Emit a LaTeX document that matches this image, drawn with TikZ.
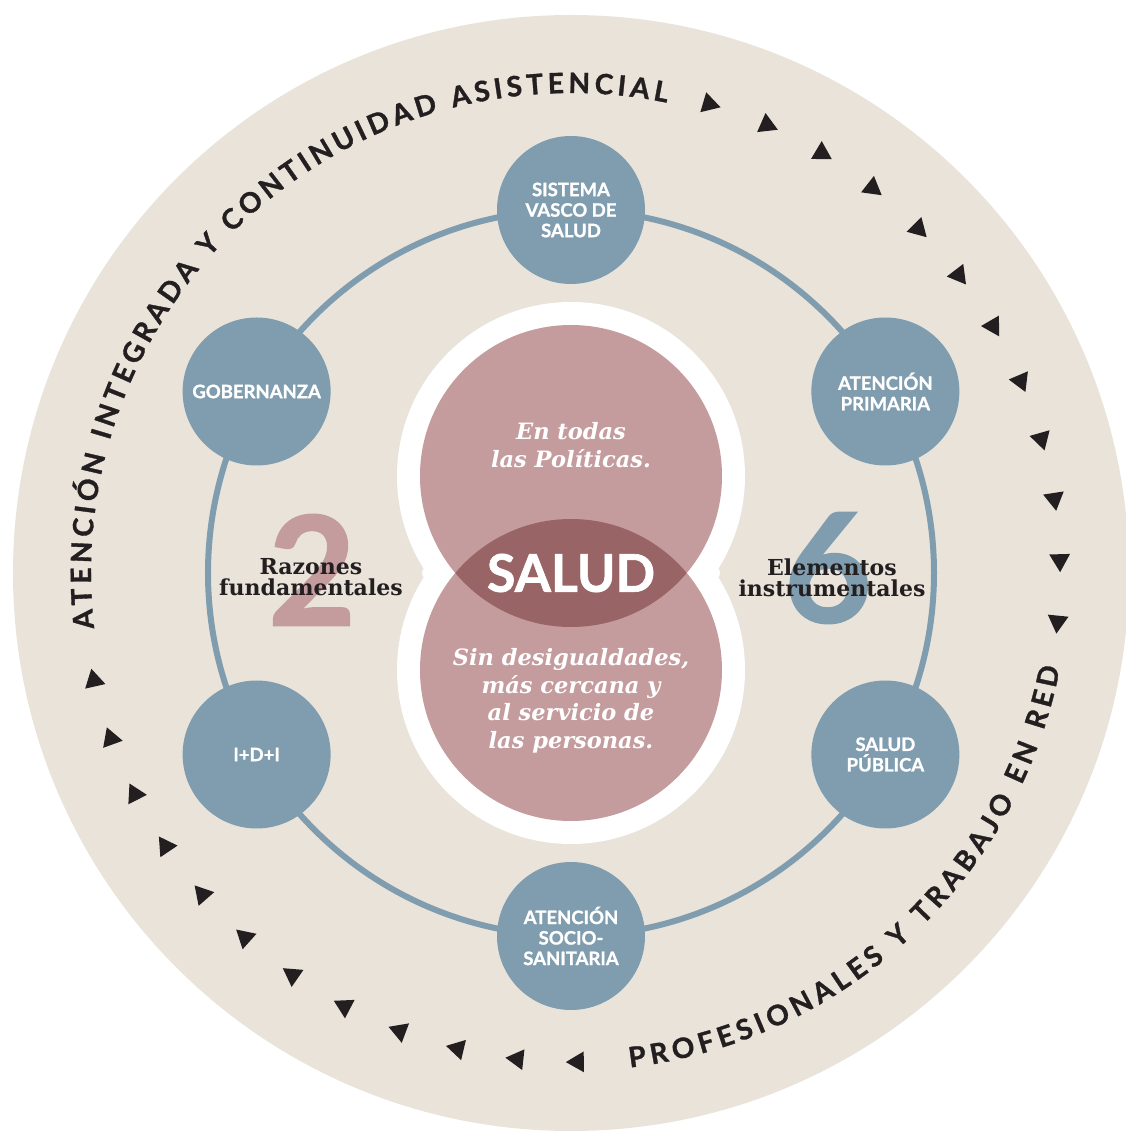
\documentclass[tikz,border=0pt]{standalone}
\usepackage{fontspec}
\usetikzlibrary{decorations.text}
\newfontfamily\latofont{Lato}[BoldFeatures={FakeBold=1.2}]
\newfontfamily\dejaserif{DejaVu Serif}
\definecolor{beige}{HTML}{E9E3DA}
\definecolor{azul}{HTML}{7F9DAE}
\definecolor{rosa}{HTML}{C49C9E}
\definecolor{granate}{HTML}{996465}
\definecolor{tinta}{HTML}{231F20}
\tikzset{
  elemento/.style={circle, fill=azul, minimum size=148pt, inner sep=0pt, text=white, align=center,
    font=\latofont\bfseries\fontsize{18.5}{20.5}\selectfont},
  lema/.style={text=white, align=center, font=\dejaserif\bfseries\itshape\fontsize{22.5}{27.5}\selectfont},
  rotulo/.style={text=tinta, align=center, inner sep=0pt, font=\dejaserif\bfseries\fontsize{22}{21}\selectfont},
  cifra/.style={inner sep=0pt, font=\latofont\bfseries\fontsize{152}{152}\selectfont},
  curva/.style={decorate, decoration={text along path, text color=tinta, text align=fit to path,
    text={|\latofont\bfseries\fontsize{28}{28}\selectfont|#1}}}
}
\begin{document}
\begin{tikzpicture}[x=1pt, y=1pt]
\useasboundingbox (-571,-558) rectangle (554,573);
\fill[beige] (0,0) circle (558);
\draw[azul, line width=6] (0,0) circle (363);

\node[elemento] (sistema) at (90:363) {SISTEMA\\VASCO DE\\SALUD};
\node[elemento] (primaria) at (30:363) {ATENCIÓN\\PRIMARIA};
\node[elemento] (publica) at (-30:363) {SALUD\\PÚBLICA};
\node[elemento] (socio) at (-90:363) {ATENCIÓN\\SOCIO-\\SANITARIA};
\node[elemento] (idi) at (210:363) {I+D+I};
\node[elemento] (gobernanza) at (150:363) {GOBERNANZA};

\fill[white] (0,97) circle (174) (0,-97) circle (174) (0,0) ellipse (149 and 30);
\node[circle, fill=rosa, minimum size=302pt, inner sep=0pt] (arriba) at (0,97) {};
\node[circle, fill=rosa, minimum size=302pt, inner sep=0pt] (abajo) at (0,-97) {};
\begin{scope}
  \clip (arriba.center) circle (151);
  \fill[granate] (abajo.center) circle (151);
\end{scope}

\node[lema] (politicas) at (0,128) {En todas\\las Políticas.};
\node[lema] (personas) at (0,-128) {Sin desigualdades,\\más cercana y\\al servicio de\\las personas.};
\node[text=white, font=\latofont\bfseries\fontsize{52}{52}\selectfont] (salud) at (0,0) {SALUD};

\node[cifra, text=rosa] (dos) at (-259,3) {2};
\node[cifra, text=azul] (seis) at (257,5) {6};
\node[rotulo] (razones) at (-260,-4) {Razones\\fundamentales};
\node[rotulo] (instrumentos) at (261,-5) {Elementos\\instrumentales};

\path[curva={ATENCIÓN INTEGRADA Y CONTINUIDAD ASISTENCIAL}]
  (186.6:480) arc[start angle=186.6, end angle=78.5, radius=480];
\path[curva={PROFESIONALES Y TRABAJO EN RED}]
  (-83.2:498) arc[start angle=-83.2, end angle=-11, radius=498];

\foreach \i in {0,...,11}{
  \pgfmathsetmacro{\a}{73.6-7.21*\i}
  \fill[tinta, shift={(\a:489)}, rotate=\a-90] (12,0) -- (-6,10.4) -- (-6,-10.4) -- cycle;
  \pgfmathsetmacro{\b}{192.7+7.1*\i}
  \fill[tinta, shift={(\b:489)}, rotate=\b-90] (12,0) -- (-6,10.4) -- (-6,-10.4) -- cycle;
}
\end{tikzpicture}
\end{document}
